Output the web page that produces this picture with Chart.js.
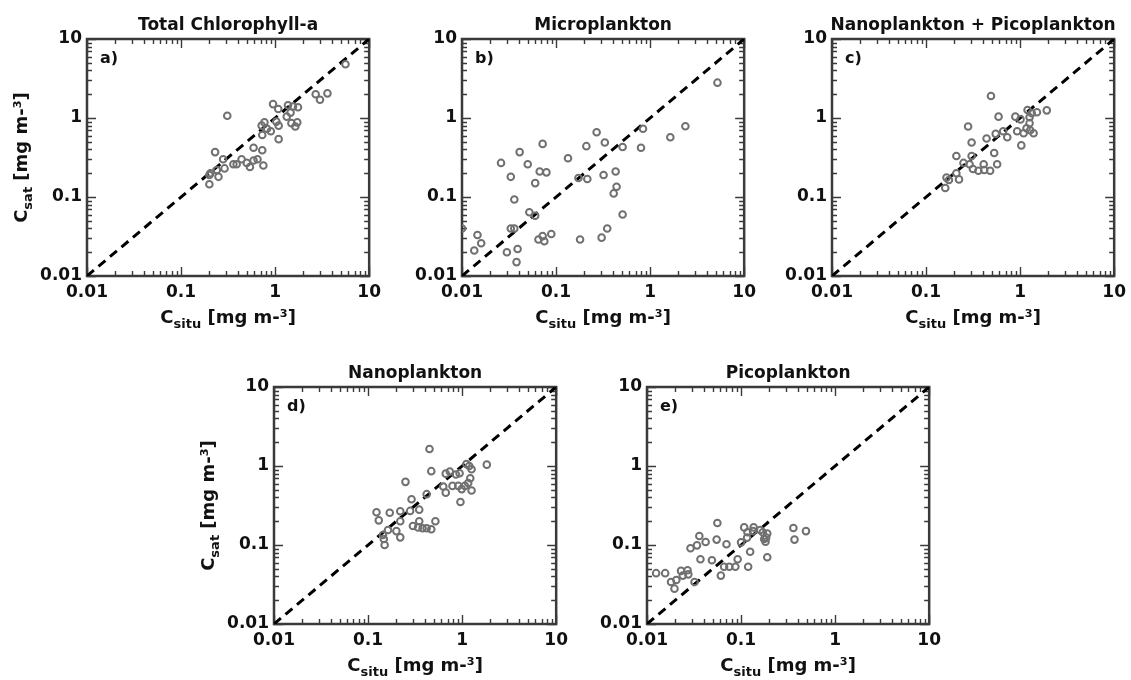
<!DOCTYPE html>
<html>
<head>
<meta charset="utf-8">
<script src="https://cdn.jsdelivr.net/npm/chart.js@4.4.0/dist/chart.umd.min.js"></script>
<style>
  html, body { margin: 0; padding: 0; background: #fff; overflow: hidden; }
  body { width: 1131px; height: 680px; position: relative; }
  canvas { position: absolute; }
</style>
</head>
<body>
<canvas id="pa" width="387" height="341" style="left:0px;top:0px"></canvas>
<canvas id="pb" width="387" height="341" style="left:375px;top:0px"></canvas>
<canvas id="pc" width="387" height="341" style="left:745px;top:0px"></canvas>
<canvas id="pd" width="387" height="341" style="left:187px;top:348px"></canvas>
<canvas id="pe" width="387" height="341" style="left:560px;top:348px"></canvas>
<script>
// a) total chlorophyll-a
const totalX = [5.6, 2.7, 3.6, 3.0, 0.95, 1.08, 1.37, 1.55, 1.75, 1.46, 1.33, 0.31, 0.77, 0.72, 1.03, 1.09, 1.49, 1.72, 1.64, 0.82, 0.90, 0.73, 1.09, 0.23, 0.59, 0.73, 0.28, 0.44, 0.50, 0.59, 0.65, 0.36, 0.39, 0.54, 0.75, 0.29, 0.24, 0.205, 0.20, 0.25, 0.20];
const totalY = [4.8, 2.0, 2.05, 1.7, 1.5, 1.3, 1.45, 1.4, 1.37, 1.17, 1.04, 1.07, 0.88, 0.80, 0.90, 0.80, 0.86, 0.88, 0.78, 0.73, 0.68, 0.61, 0.54, 0.37, 0.42, 0.39, 0.30, 0.30, 0.27, 0.29, 0.30, 0.26, 0.26, 0.24, 0.25, 0.23, 0.22, 0.20, 0.19, 0.18, 0.145];

// b) microplankton
const microX = [0.01, 0.0146, 0.016, 0.0135, 0.026, 0.033, 0.036, 0.033, 0.036, 0.030, 0.039, 0.038, 0.041, 0.050, 0.060, 0.052, 0.060, 0.072, 0.067, 0.079, 0.065, 0.072, 0.075, 0.089, 0.134, 0.173, 0.215, 0.21, 0.27, 0.33, 0.32, 0.43, 0.44, 0.41, 0.51, 0.51, 0.35, 0.305, 0.18, 0.84, 0.80, 1.64, 2.37, 5.2];
const microY = [0.040, 0.033, 0.026, 0.021, 0.27, 0.18, 0.093, 0.040, 0.040, 0.020, 0.022, 0.015, 0.37, 0.26, 0.15, 0.064, 0.058, 0.47, 0.21, 0.205, 0.029, 0.032, 0.0275, 0.034, 0.31, 0.174, 0.169, 0.44, 0.66, 0.49, 0.19, 0.21, 0.135, 0.111, 0.43, 0.060, 0.040, 0.0306, 0.029, 0.73, 0.42, 0.57, 0.785, 2.8];

// c) nano + pico
const nanoPicoX = [0.49, 0.59, 0.89, 1.01, 1.2, 1.33, 1.51, 1.92, 1.26, 1.26, 1.17, 1.28, 1.09, 0.93, 1.39, 1.03, 0.66, 0.73, 0.55, 0.44, 0.28, 0.305, 0.53, 0.57, 0.21, 0.305, 0.25, 0.29, 0.41, 0.315, 0.36, 0.415, 0.48, 0.21, 0.224, 0.165, 0.175, 0.16];
const nanoPicoY = [1.9, 1.04, 1.04, 0.96, 1.26, 1.15, 1.18, 1.25, 1.02, 0.86, 0.74, 0.70, 0.64, 0.68, 0.64, 0.45, 0.68, 0.57, 0.63, 0.55, 0.78, 0.49, 0.36, 0.26, 0.33, 0.33, 0.27, 0.26, 0.26, 0.226, 0.215, 0.22, 0.215, 0.20, 0.167, 0.176, 0.164, 0.13];

// d) nanoplankton
const nanoX = [0.45, 0.47, 0.25, 0.67, 0.74, 0.86, 0.94, 1.11, 1.19, 1.26, 1.83, 1.22, 1.16, 0.63, 0.67, 0.79, 0.91, 0.99, 1.07, 1.26, 0.96, 0.42, 0.29, 0.123, 0.17, 0.22, 0.28, 0.35, 0.13, 0.22, 0.30, 0.35, 0.34, 0.38, 0.42, 0.47, 0.52, 0.163, 0.144, 0.20, 0.22, 0.147, 0.15];
const nanoY = [1.64, 0.86, 0.63, 0.80, 0.85, 0.78, 0.81, 1.06, 1.0, 0.91, 1.04, 0.70, 0.61, 0.55, 0.46, 0.56, 0.56, 0.51, 0.56, 0.49, 0.35, 0.44, 0.38, 0.26, 0.256, 0.267, 0.27, 0.28, 0.205, 0.20, 0.174, 0.20, 0.167, 0.163, 0.163, 0.158, 0.20, 0.155, 0.134, 0.15, 0.125, 0.119, 0.10];

// e) picoplankton
const picoX = [0.0125, 0.0156, 0.018, 0.0205, 0.0196, 0.023, 0.024, 0.027, 0.0275, 0.032, 0.029, 0.034, 0.036, 0.042, 0.037, 0.049, 0.055, 0.056, 0.061, 0.07, 0.066, 0.075, 0.087, 0.092, 0.10, 0.108, 0.117, 0.116, 0.136, 0.134, 0.16, 0.17, 0.19, 0.185, 0.176, 0.182, 0.125, 0.119, 0.19, 0.36, 0.37, 0.49];
const picoY = [0.044, 0.044, 0.034, 0.036, 0.028, 0.047, 0.041, 0.048, 0.0425, 0.034, 0.091, 0.099, 0.13, 0.109, 0.066, 0.064, 0.117, 0.19, 0.041, 0.102, 0.053, 0.053, 0.053, 0.066, 0.108, 0.167, 0.145, 0.124, 0.167, 0.15, 0.155, 0.145, 0.14, 0.124, 0.119, 0.11, 0.082, 0.053, 0.07, 0.164, 0.117, 0.15];

const tickValues = [0.01, 0.1, 1, 10];
const tickLabels = ['0.01', '0.1', '1', '10'];
const oneToOne = [0.01, 10];

const FONT = "'DejaVu Sans', 'Liberation Sans', sans-serif";
const INK = '#111';

function drawSubTitle(ctx, cx, cy, sub, rotated) {
  const big = 'bold 18px ' + FONT;
  const small = 'bold 13px ' + FONT;
  const rest = ' [mg m-\u00b3]';
  ctx.save();
  ctx.translate(cx, cy);
  if (rotated) ctx.rotate(-Math.PI / 2);
  ctx.fillStyle = INK;
  ctx.textAlign = 'left';
  ctx.textBaseline = 'alphabetic';
  ctx.font = big;
  const wC = ctx.measureText('C').width;
  const wR = ctx.measureText(rest).width;
  ctx.font = small;
  const wS = ctx.measureText(sub).width;
  const x0 = -(wC + wS + wR) / 2;
  ctx.font = big;
  ctx.fillText('C', x0, 0);
  ctx.font = small;
  ctx.fillText(sub, x0 + wC, 5);
  ctx.font = big;
  ctx.fillText(rest, x0 + wC + wS, 0);
  ctx.restore();
}

// frame with inward log ticks on all four sides, plus titles
const panelFrame = {
  id: 'panelFrame',
  beforeDatasetsDraw(chart) {
    const { ctx, chartArea: a, scales: { x, y } } = chart;
    ctx.save();
    ctx.strokeStyle = '#3a3a3a';
    ctx.lineWidth = 1.4;
    ctx.beginPath();
    for (let d = 0; d < tickValues.length - 1; d++) {
      for (let m = 1; m <= 10; m++) {
        const v = tickValues[d] * m;
        const len = (m === 1 || m === 10) ? 9 : 5;
        const px = Math.round(x.getPixelForValue(v)) + 0.5;
        const py = Math.round(y.getPixelForValue(v)) + 0.5;
        ctx.moveTo(px, a.bottom); ctx.lineTo(px, a.bottom - len);
        ctx.moveTo(px, a.top); ctx.lineTo(px, a.top + len);
        ctx.moveTo(a.left, py); ctx.lineTo(a.left + len, py);
        ctx.moveTo(a.right, py); ctx.lineTo(a.right - len, py);
      }
    }
    ctx.stroke();
    ctx.lineWidth = 2.5;
    ctx.strokeRect(a.left, a.top, a.right - a.left, a.bottom - a.top);
    ctx.restore();
  },
  afterDraw(chart, args, opts) {
    const { ctx, chartArea: a } = chart;
    const cx = (a.left + a.right) / 2;
    ctx.save();
    ctx.fillStyle = INK;
    ctx.textBaseline = 'alphabetic';
    ctx.textAlign = 'center';
    ctx.font = 'bold 17px ' + FONT;
    ctx.fillText(opts.title, cx, a.top - 9);
    ctx.textAlign = 'left';
    ctx.font = 'bold 16px ' + FONT;
    ctx.fillText(opts.label, a.left + 13, a.top + 24);
    ctx.restore();
    drawSubTitle(ctx, cx, a.bottom + 47, 'situ', false);
    if (opts.yTitle) drawSubTitle(ctx, a.left - 60, (a.top + a.bottom) / 2, 'sat', true);
  }
};

function logAxis(which) {
  return {
    type: 'logarithmic',
    min: 0.01,
    max: 10,
    grid: { display: false, drawTicks: false },
    border: { display: false },
    afterBuildTicks: s => { s.ticks = tickValues.map(v => ({ value: v })); },
    afterFit: s => { if (which === 'x') s.height = 26; else s.width = 60; },
    ticks: {
      autoSkip: false,
      maxRotation: 0,
      padding: which === 'x' ? 6 : 5,
      color: INK,
      font: { family: FONT, size: 17, weight: 'bold' },
      callback: (v, i) => tickLabels[i]
    }
  };
}

function makePanel(id, xs, ys, info) {
  const pts = xs.map((v, i) => ({ x: v, y: ys[i] }));
  return new Chart(document.getElementById(id), {
    type: 'scatter',
    data: {
      datasets: [
        {
          data: pts,
          pointRadius: 3.3,
          pointHoverRadius: 3.3,
          borderWidth: 2,
          borderColor: '#707070',
          backgroundColor: 'rgba(0,0,0,0)'
        },
        {
          type: 'line',
          data: oneToOne.map(v => ({ x: v, y: v })),
          borderColor: '#000',
          borderWidth: 3,
          borderDash: [9, 6],
          pointRadius: [1.5, 2.5],
          pointBackgroundColor: '#000',
          pointBorderWidth: 0,
          fill: false
        }
      ]
    },
    options: {
      responsive: false,
      animation: false,
      devicePixelRatio: 1,
      layout: { padding: { left: 27, top: 39, right: 15, bottom: 39 } },
      plugins: {
        legend: { display: false },
        tooltip: { enabled: false },
        panelFrame: info
      },
      scales: { x: logAxis('x'), y: logAxis('y') }
    },
    plugins: [panelFrame]
  });
}

makePanel('pa', totalX, totalY, { title: 'Total Chlorophyll-a', label: 'a)', yTitle: true });
makePanel('pb', microX, microY, { title: 'Microplankton', label: 'b)', yTitle: false });
makePanel('pc', nanoPicoX, nanoPicoY, { title: 'Nanoplankton + Picoplankton', label: 'c)', yTitle: false });
makePanel('pd', nanoX, nanoY, { title: 'Nanoplankton', label: 'd)', yTitle: true });
makePanel('pe', picoX, picoY, { title: 'Picoplankton', label: 'e)', yTitle: false });
</script>
</body>
</html>
